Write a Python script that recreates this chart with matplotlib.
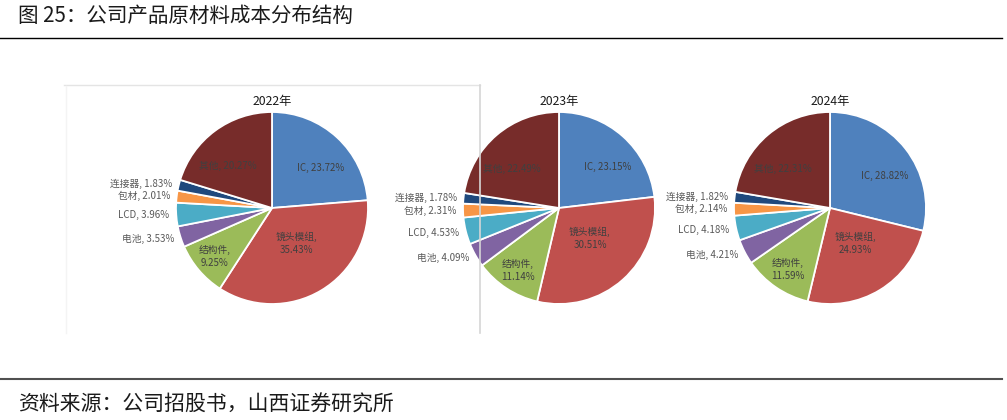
import matplotlib
matplotlib.use("Agg")
import matplotlib.pyplot as plt
from matplotlib.lines import Line2D
import numpy as np

plt.rcParams['font.family'] = ['Noto Sans CJK SC', 'DejaVu Sans']

categories = ['IC', '镜头模组', '结构件', '电池', 'LCD', '包材', '连接器', '其他']
years = ['2022年', '2023年', '2024年']
v2022 = [23.72, 35.43, 9.25, 3.53, 3.96, 2.01, 1.83, 20.27]
v2023 = [23.15, 30.51, 11.14, 4.09, 4.53, 2.31, 1.78, 22.49]
v2024 = [28.82, 24.93, 11.59, 4.21, 4.18, 2.14, 1.82, 22.31]
series = [v2022, v2023, v2024]

colors = ['#4F81BD', '#C0504D', '#9BBB59', '#8064A2', '#4BACC6',
          '#F79646', '#1F497D', '#772C2A']

# label placement: inside labels (radius, angle tweak), others go outside
inside = {'IC': (0.66, -8), '镜头模组': (0.45, 4), '结构件': (0.78, 0), '其他': (0.64, 10)}
two_line = ['镜头模组', '结构件']

W, H = 1007, 420
fig = plt.figure(figsize=(W / 100, H / 100), dpi=100)

R = 96  # pie radius in px
centers = [(272, 208), (559, 208), (830, 208)]
k = 1.5

for (cx, cy), vals, yr in zip(centers, series, years):
    side = 2 * k * R
    ax = fig.add_axes([(cx - side / 2) / W, (H - cy - side / 2) / H, side / W, side / H])
    wedges, _ = ax.pie(vals, colors=colors, startangle=90, counterclock=False,
                       wedgeprops=dict(edgecolor='white', linewidth=1.3))
    ax.set_xlim(-k, k)
    ax.set_ylim(-k, k)
    ax.set_aspect('auto')
    ax.axis('off')
    ax.text(0, 1.11, yr, ha='center', va='center', fontsize=8.8, color='#1a1a1a')
    for w, name, v in zip(wedges, categories, vals):
        mid = (w.theta1 + w.theta2) / 2
        if name in inside:
            r, d = inside[name]
            a = np.deg2rad(mid + d)
            sep = ',\n' if name in two_line else ', '
            ax.text(r * np.cos(a), r * np.sin(a), f'{name}{sep}{v:.2f}%',
                    ha='center', va='center', fontsize=7, color='#404040',
                    linespacing=1.35)
        else:
            a = np.deg2rad(mid)
            ax.text(1.07 * np.cos(a), 1.07 * np.sin(a), f'{name}, {v:.2f}%',
                    ha='right', va='center', fontsize=7, color='#595959')

# frame around the first panel
def px_line(x0, y0, x1, y1, **kw):
    fig.add_artist(Line2D([x0 / W, x1 / W], [1 - y0 / H, 1 - y1 / H],
                          transform=fig.transFigure, **kw))

px_line(64, 84.5, 480, 84.5, color='#e4e4e4', linewidth=1.0)
px_line(480, 84.5, 480, 333, color='#d6d6d6', linewidth=1.2)
px_line(66, 86, 66, 333, color='#f4f4f4', linewidth=1.0)

# header / footer rules
px_line(0, 37.7, 1002, 37.7, color='black', linewidth=1.0)
px_line(0, 379, 1002, 379, color='#505050', linewidth=1.5)

fig.text(18 / W, 1 - 16 / H, '图 25：公司产品原材料成本分布结构', ha='left', va='center',
         fontsize=14.8, color='#1a1a1a')
fig.text(18 / W, 1 - 405 / H, '资料来源：公司招股书，山西证券研究所', ha='left', va='center',
         fontsize=15, color='#1a1a1a')

fig.savefig('out.png', dpi=100)
